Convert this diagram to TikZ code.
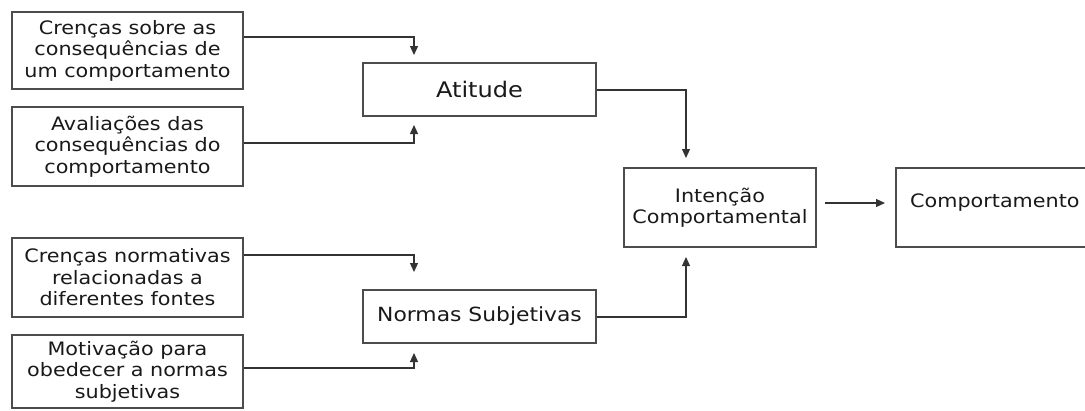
\documentclass[tikz,border=0pt]{standalone}
\usepackage{fontspec}
\setmainfont{DejaVu Sans}[FakeStretch=1.12]
\usetikzlibrary{arrows.meta}
\begin{document}
\begin{tikzpicture}[x=1pt,y=-1pt,
  txt/.style={text=black!90,font=\fontsize{18.5}{21.5}\selectfont},
  box/.style={draw=black!70,line width=1.3pt,inner sep=0pt,align=center,txt},
  conn/.style={draw=black!80,line width=1.2pt,-{Triangle[length=9pt,width=8pt]}}]
\useasboundingbox (0,0) rectangle (1085,410);
\node[box,minimum width=231pt,minimum height=77pt] (b1) at (127.5,50.5) {Crenças sobre as\\consequências de\\um comportamento};
\node[box,minimum width=231pt,minimum height=79pt] (b2) at (127.5,146.5) {Avaliações das\\consequências do\\comportamento};
\node[box,minimum width=231pt,minimum height=79pt] (b3) at (127.5,277.5) {Crenças normativas\\relacionadas a\\diferentes fontes};
\node[box,minimum width=231pt,minimum height=73pt] (b4) at (127.5,371.5) {Motivação para\\obedecer a normas\\subjetivas};
\node[box,minimum width=233pt,minimum height=53pt,font=\fontsize{21.5}{24}\selectfont] (att) at (479.5,89.5) {Atitude};
\node[box,minimum width=233pt,minimum height=53pt,font=\fontsize{19.5}{24}\selectfont] (ns) at (479.5,316.5) {Normas Subjetivas};
\node[box,minimum width=192pt,minimum height=79pt] (ic) at (720,207.5) {Intenção\\Comportamental};
\node[box,minimum width=192pt,minimum height=79pt] (cp) at (992,207.5) {};
\node[txt,anchor=west,inner sep=0pt] (cpt) at (910,203) {Comportamento};
\coordinate (t1) at (414,55);
\coordinate (t2) at (414,125);
\coordinate (t3) at (414,272);
\coordinate (t4) at (414,353);
\coordinate (t5) at (686,158);
\coordinate (t6) at (686,257);
\coordinate (s7) at (825,203);
\coordinate (t7) at (885,203);
\draw[conn] (b1.east |- 0,37) -| (t1);
\draw[conn] (b2.east |- 0,143) -| (t2);
\draw[conn] (b3.east |- 0,255) -| (t3);
\draw[conn] (b4.east |- 0,368) -| (t4);
\draw[conn] (att.east |- 0,90) -| (t5);
\draw[conn] (ns.east |- 0,317) -| (t6);
\draw[conn] (s7) -- (t7);
\end{tikzpicture}
\end{document}
